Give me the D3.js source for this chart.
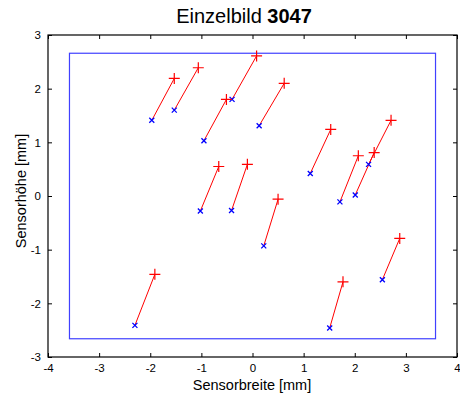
<!DOCTYPE html>
<html>
<head>
<meta charset="utf-8">
<script src="https://cdn.jsdelivr.net/npm/d3@7"></script>
<style>
  body { margin: 0; background: #fff; }
  text { font-family: "Liberation Sans", Arial, sans-serif; fill: #000; }
</style>
</head>
<body>
<div id="chart"></div>
<script>
// measured positions (blue x) and corrected positions (red +), in mm
const startX = [-1.97, -1.53, -0.95, -0.40, 0.13, -1.02, -0.41, 0.22, 1.13, 1.71, 2.01, 2.27, -2.30, 1.51, 2.54];
const startY = [1.41, 1.60, 1.03, 1.80, 1.31, -0.28, -0.27, -0.93, 0.42, -0.11, 0.02, 0.59, -2.41, -2.46, -1.56];
const endX = [-1.53, -1.06, -0.51, 0.08, 0.62, -0.66, -0.10, 0.50, 1.53, 2.07, 2.38, 2.71, -1.91, 1.77, 2.88];
const endY = [2.19, 2.39, 1.80, 2.61, 2.10, 0.55, 0.59, -0.06, 1.24, 0.75, 0.81, 1.41, -1.46, -1.60, -0.79];
const sensorX = [-3.58, 3.58];
const sensorY = [-2.66, 2.66];
const xTicks = [-4, -3, -2, -1, 0, 1, 2, 3, 4];
const yTicks = [-3, -2, -1, 0, 1, 2, 3];

const width = 460, height = 399;
const margin = { top: 35, right: 3, bottom: 42, left: 48 };

const svg = d3.select('#chart').append('svg')
    .attr('width', width)
    .attr('height', height);

const x = d3.scaleLinear().domain([-4, 4]).range([margin.left, width - margin.right]);
const y = d3.scaleLinear().domain([-3, 3]).range([height - margin.bottom, margin.top]);
const fmt = d => String(d);

// title
const title = svg.append('text')
    .attr('x', 244)
    .attr('y', 23)
    .attr('text-anchor', 'middle')
    .style('font-size', '20px');
title.append('tspan').text('Einzelbild ');
title.append('tspan').style('font-weight', 'bold').text('3047');

// axes with inward ticks on all sides
const tick = 4;
svg.append('g').attr('transform', `translate(0,${y(-3)})`)
    .call(d3.axisBottom(x).tickValues(xTicks).tickSize(-tick).tickPadding(7).tickFormat(fmt))
    .call(g => g.select('.domain').remove());
svg.append('g').attr('transform', `translate(0,${y(3)})`)
    .call(d3.axisTop(x).tickValues(xTicks).tickSize(-tick).tickFormat(''))
    .call(g => g.select('.domain').remove());
svg.append('g').attr('transform', `translate(${x(-4)},0)`)
    .call(d3.axisLeft(y).tickValues(yTicks).tickSize(-tick).tickPadding(7).tickFormat(fmt))
    .call(g => g.select('.domain').remove());
svg.append('g').attr('transform', `translate(${x(4)},0)`)
    .call(d3.axisRight(y).tickValues(yTicks).tickSize(-tick).tickFormat(''))
    .call(g => g.select('.domain').remove());

svg.selectAll('.tick text').style('font-size', '11.5px').style('font-family', '"Liberation Sans", Arial, sans-serif');
svg.selectAll('.tick line').attr('stroke', '#000');

svg.append('rect')
    .attr('x', x(-4)).attr('y', y(3))
    .attr('width', x(4) - x(-4)).attr('height', y(-3) - y(3))
    .attr('fill', 'none').attr('stroke', '#000').attr('stroke-width', 1.2);

// sensor frame
svg.append('rect')
    .attr('x', x(sensorX[0])).attr('y', y(sensorY[1]))
    .attr('width', x(sensorX[1]) - x(sensorX[0]))
    .attr('height', y(sensorY[0]) - y(sensorY[1]))
    .attr('fill', 'none').attr('stroke', '#4040ff').attr('stroke-width', 1.2);

const pts = d3.range(startX.length);

svg.append('g').selectAll('line')
    .data(pts).enter().append('line')
    .attr('x1', i => x(startX[i])).attr('y1', i => y(startY[i]))
    .attr('x2', i => x(endX[i])).attr('y2', i => y(endY[i]))
    .attr('stroke', '#ff0000').attr('stroke-width', 1);

const c = 2.5;
svg.append('g').selectAll('path')
    .data(pts).enter().append('path')
    .attr('d', i => {
      const px = x(startX[i]), py = y(startY[i]);
      return `M${px - c},${py - c}L${px + c},${py + c}M${px - c},${py + c}L${px + c},${py - c}`;
    })
    .attr('stroke', '#0000ff').attr('stroke-width', 1.3).attr('fill', 'none');

const p = 5.5;
svg.append('g').selectAll('path')
    .data(pts).enter().append('path')
    .attr('d', i => {
      const px = x(endX[i]), py = y(endY[i]);
      return `M${px - p},${py}L${px + p},${py}M${px},${py - p}L${px},${py + p}`;
    })
    .attr('stroke', '#ff0000').attr('stroke-width', 1.2).attr('fill', 'none');

// axis labels
svg.append('text')
    .attr('x', 252)
    .attr('y', 390)
    .attr('text-anchor', 'middle')
    .style('font-size', '14.5px')
    .text('Sensorbreite [mm]');

svg.append('text')
    .attr('transform', 'translate(26,191) rotate(-90)')
    .attr('text-anchor', 'middle')
    .style('font-size', '14.5px')
    .text('Sensorhöhe [mm]');
</script>
</body>
</html>
